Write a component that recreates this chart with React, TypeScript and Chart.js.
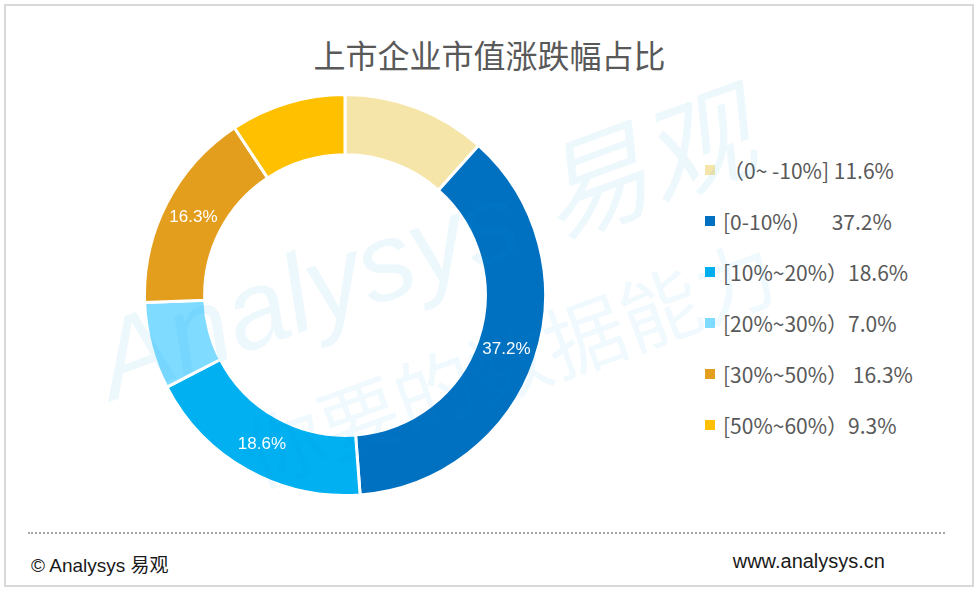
import { useEffect, useRef } from "react";
import { Chart, registerables } from "chart.js";
Chart.register(...registerables);

const title = "上市企业市值涨跌幅占比";
const categories = ["（0~ -10%]", "[0-10%)", "[10%~20%）", "[20%~30%）", "[30%~50%）", "[50%~60%）"];
const shares = [11.6, 37.2, 18.6, 7.0, 16.3, 9.3];
const legendGaps = [" ", "       ", "", "", " ", ""];
const colors = ["#F6E5A9", "#0070C0", "#00B0F0", "#7FDBFF", "#E49E1D", "#FFC000"];
const footerLeft = "© Analysys 易观";
const footerRight = "www.analysys.cn";

const cjk = '"Noto Sans CJK SC", "Noto Sans", sans-serif';

// white percentage labels on the bigger slices
const sliceLabels = {
    id: "sliceLabels",
    afterDatasetsDraw(chart: Chart) {
        const ctx = chart.ctx;
        const meta = chart.getDatasetMeta(0);
        ctx.save();
        ctx.fillStyle = "#ffffff";
        ctx.font = '17px "Liberation Sans", Arial, sans-serif';
        ctx.textAlign = "center";
        ctx.textBaseline = "middle";
        meta.data.forEach((arc: any, i: number) => {
            if (shares[i] < 15) return;
            const p = arc.getCenterPoint();
            ctx.fillText(shares[i].toFixed(1) + "%", p.x, p.y);
        });
        ctx.restore();
    },
};

const DonutChart = () => {
    const chartRef = useRef<HTMLCanvasElement | null>(null);
    const chartInstance = useRef<Chart | null>(null);

    useEffect(() => {
        if (!chartRef.current) return;
        const ctx = chartRef.current.getContext("2d");
        if (!ctx) return;
        if (chartInstance.current) chartInstance.current.destroy();

        chartInstance.current = new Chart(ctx, {
            type: "doughnut",
            data: {
                labels: categories,
                datasets: [
                    {
                        data: shares,
                        backgroundColor: colors,
                        borderColor: "#ffffff",
                        borderWidth: 3,
                    },
                ],
            },
            options: {
                responsive: false,
                maintainAspectRatio: false,
                animation: false,
                cutout: "70%",
                plugins: {
                    legend: { display: false },
                    tooltip: { enabled: false },
                },
            },
            plugins: [sliceLabels],
        });

        return () => {
            if (chartInstance.current) {
                chartInstance.current.destroy();
                chartInstance.current = null;
            }
        };
    }, []);

    return (
        <canvas
            ref={chartRef}
            width={404}
            height={404}
            style={{ position: "absolute", left: 143, top: 93, width: 404, height: 404 }}
        />
    );
};

export default function App() {
    return (
        <div
            style={{
                position: "fixed",
                left: 0,
                top: 0,
                width: 979,
                height: 590,
                background: "#ffffff",
                overflow: "hidden",
                fontFamily: cjk,
            }}
        >
            <div
                style={{
                    position: "absolute",
                    left: 4,
                    top: 4,
                    width: 970,
                    height: 583,
                    border: "2px solid #d9d9d9",
                    boxSizing: "border-box",
                }}
            />
            <div
                style={{
                    position: "absolute",
                    left: 0,
                    width: 979,
                    top: 33,
                    textAlign: "center",
                    fontSize: 32,
                    lineHeight: "42px",
                    color: "#595959",
                }}
            >
                {title}
            </div>

            <DonutChart />

            {categories.map((c, i) => (
                <div
                    key={c}
                    style={{
                        position: "absolute",
                        left: 705,
                        top: 170 + i * 51 - 15,
                        height: 30,
                        display: "flex",
                        alignItems: "center",
                        whiteSpace: "pre",
                        fontSize: 21,
                        color: "#595959",
                    }}
                >
                    <span style={{ width: 10, height: 10, background: colors[i], marginRight: 8, flex: "none" }} />
                    <span>{c + legendGaps[i] + shares[i].toFixed(1) + "%"}</span>
                </div>
            ))}

            <div
                style={{
                    position: "absolute",
                    left: 28,
                    top: 532,
                    width: 917,
                    borderTop: "2px dotted #a6a6a6",
                }}
            />
            <div
                style={{
                    position: "absolute",
                    left: 31,
                    top: 554,
                    fontSize: 19,
                    lineHeight: "24px",
                    color: "#1a1a1a",
                    fontFamily: '"Liberation Sans", "Noto Sans CJK SC", sans-serif',
                }}
            >
                {footerLeft}
            </div>
            <div
                style={{
                    position: "absolute",
                    right: 979 - 885,
                    top: 549,
                    fontSize: 20,
                    lineHeight: "24px",
                    color: "#1a1a1a",
                    fontFamily: '"Liberation Sans", sans-serif',
                }}
            >
                {footerRight}
            </div>

            {/* faint watermark */}
            <div
                style={{
                    position: "absolute",
                    left: 100,
                    top: 310,
                    lineHeight: "110px",
                    transform: "rotate(-20deg)",
                    transformOrigin: "0 50%",
                    fontSize: 110,
                    fontStyle: "italic",
                    color: "rgba(0, 160, 230, 0.07)",
                    whiteSpace: "pre",
                    pointerEvents: "none",
                    fontFamily: '"Liberation Sans", "Noto Sans CJK SC", sans-serif',
                }}
            >
                {"Analysys 易观"}
            </div>
            <div
                style={{
                    position: "absolute",
                    left: 245,
                    top: 415,
                    lineHeight: "80px",
                    transform: "rotate(-20deg)",
                    transformOrigin: "0 50%",
                    fontSize: 80,
                    color: "rgba(0, 160, 230, 0.06)",
                    whiteSpace: "pre",
                    pointerEvents: "none",
                }}
            >
                {"你要的数据能力"}
            </div>
        </div>
    );
}
